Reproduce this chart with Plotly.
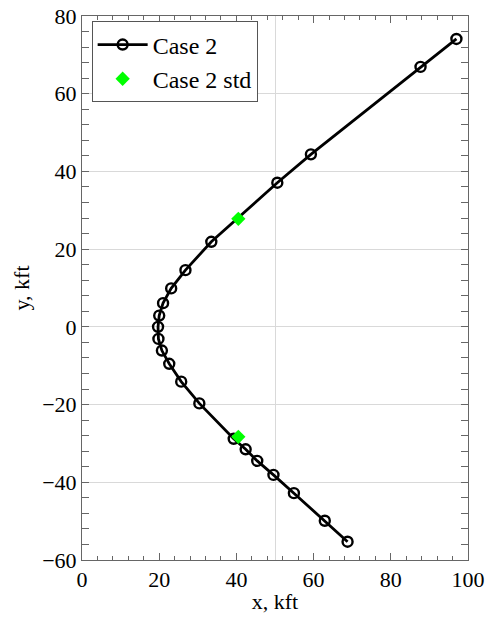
import plotly.graph_objects as go

# Case 2 trajectory (kft)
x_case2 = [68.8, 62.9, 54.9, 49.6, 45.4, 42.4, 39.3, 30.4, 25.7, 22.6, 20.7, 19.8, 19.7,
           20.0, 21.0, 23.1, 26.8, 33.5, 50.6, 59.3, 87.7, 97.0]
y_case2 = [-55.3, -49.9, -42.8, -38.1, -34.5, -31.5, -28.8, -19.7, -14.1, -9.5, -6.1, -3.1, 0.0,
           2.9, 6.1, 9.9, 14.6, 21.9, 37.1, 44.4, 66.9, 74.1]

# Case 2 std points
x_std = [40.5, 40.5]
y_std = [27.8, -28.3]

font_family = "Liberation Serif, Times New Roman, serif"

fig = go.Figure()
fig.add_trace(go.Scatter(
    x=x_case2, y=y_case2, mode="lines+markers", name="Case 2",
    line=dict(color="black", width=2.8),
    marker=dict(symbol="circle-open", size=10, color="black", line=dict(width=2.4)),
))
fig.add_trace(go.Scatter(
    x=x_std, y=y_std, mode="markers", name="Case 2 std",
    marker=dict(symbol="diamond", size=11, color="#00ff00"),
))
# helper axis carrying the single vertical gridline
fig.add_trace(go.Scatter(x=[None], y=[None], xaxis="x2", showlegend=False, hoverinfo="skip"))

axis_common = dict(
    showline=True, linecolor="#666666", linewidth=1, mirror="allticks",
    ticks="inside", ticklen=7, tickcolor="#666666", tickwidth=1,
    tickfont=dict(family=font_family, size=22, color="black"),
    zeroline=False, automargin=False,
)

fig.update_layout(
    width=488, height=619,
    margin=dict(l=82, r=20, t=16, b=59),
    paper_bgcolor="white", plot_bgcolor="white",
    font=dict(family=font_family, color="black"),
    xaxis=dict(
        range=[0, 100], dtick=20, showgrid=False,
        minor=dict(dtick=4, ticks="inside", ticklen=4, tickcolor="#666666", showgrid=False),
        title=dict(text="x, kft", font=dict(family=font_family, size=22), standoff=2),
        **axis_common,
    ),
    xaxis2=dict(
        range=[0, 100], overlaying="x", anchor="y", tickvals=[50], showgrid=True,
        gridcolor="#d9d9d9", gridwidth=1, showticklabels=False, ticks="", showline=False,
        zeroline=False,
    ),
    yaxis=dict(
        range=[-60, 80], dtick=20, showgrid=True, gridcolor="#d9d9d9", gridwidth=1,
        minor=dict(dtick=4, ticks="inside", ticklen=4, tickcolor="#666666", showgrid=False),
        title=dict(text="y, kft", font=dict(family=font_family, size=22), standoff=6),
        **axis_common,
    ),
    legend=dict(
        x=0.025, y=0.99, xanchor="left", yanchor="top",
        bgcolor="white", bordercolor="#555555", borderwidth=1,
        font=dict(family=font_family, size=24, color="black"),
        itemwidth=50, tracegroupgap=0,
    ),
)

fig.write_html("out.html")
